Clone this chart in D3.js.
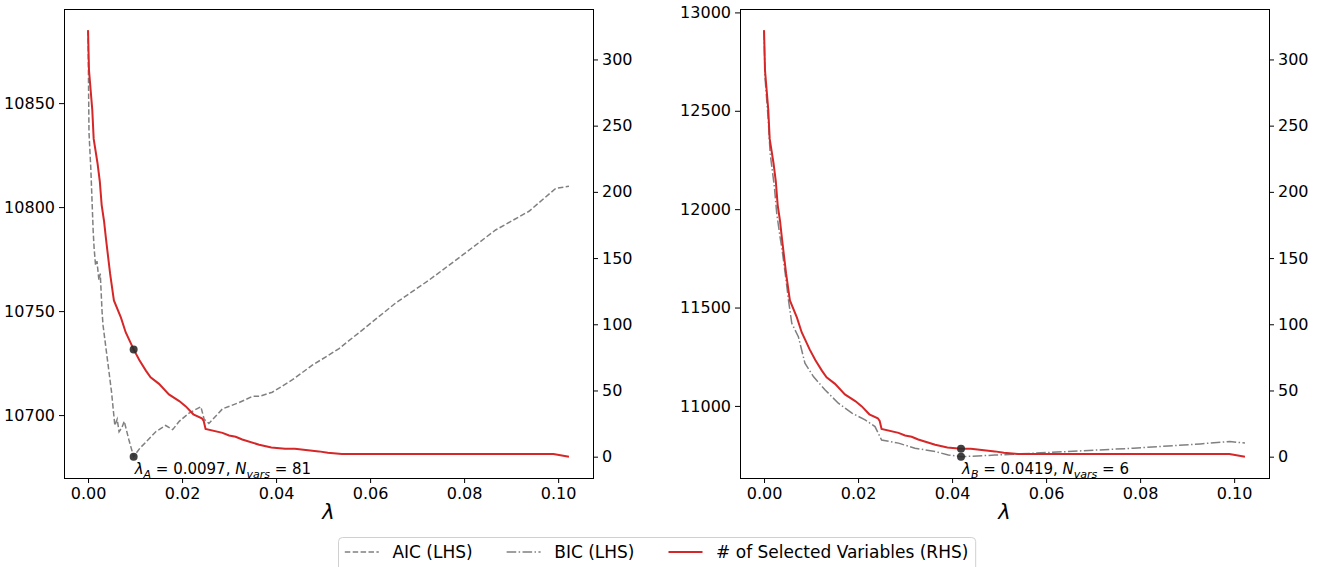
<!DOCTYPE html>
<meta charset="utf-8">
<html>
<head>
  <script src="https://d3js.org/d3.v7.min.js"></script>
</head>
<style>
body { margin: 0; background: white; }
text { font-family: "DejaVu Sans", sans-serif; fill: black; }
.domain { display: none; }
</style>
<body>
<div id="container"></div>
<script>

// number of selected variables along the lambda path (same path in both panels)
var nLambda = [0, 0.0002, 0.0009, 0.0012, 0.0020, 0.0025, 0.0029, 0.0034, 0.0038, 0.0041,
               0.0047, 0.0055, 0.0070, 0.0080, 0.0097, 0.0109, 0.0123, 0.0133, 0.0151, 0.0172,
               0.0194, 0.0208, 0.0224, 0.0242, 0.0246, 0.0250, 0.0286, 0.0300, 0.0314, 0.0328,
               0.0364, 0.0390, 0.0419, 0.0440, 0.0491, 0.0510, 0.0540, 0.0990, 0.1023]
var nVars = [322, 292, 262, 240, 222, 208, 190, 178, 165, 156,
             138, 118, 105, 94, 81, 73, 65, 60, 55, 47,
             42, 38, 32, 29, 27, 21, 18, 16, 15, 13,
             9, 7, 6, 6, 4, 3, 2, 2, 0]

// AIC (left panel)
var aicLambda = [0, 0.0001, 0.0002, 0.0006, 0.0011, 0.0013, 0.0016, 0.0019, 0.0023, 0.0026,
                 0.0030, 0.0032, 0.0045, 0.0050, 0.0057, 0.0062, 0.0066, 0.0072, 0.0077, 0.0087,
                 0.0097, 0.0110, 0.0123, 0.0144, 0.0165, 0.0180, 0.0194, 0.0215, 0.0240, 0.0247,
                 0.0257, 0.0286, 0.0321, 0.0350, 0.0364, 0.0392, 0.0435, 0.0477, 0.0506, 0.0534,
                 0.0584, 0.0655, 0.0726, 0.0797, 0.0867, 0.0938, 0.0995, 0.1023]
var aicValues = [10885, 10860, 10836, 10818, 10788, 10780, 10772, 10774, 10765, 10768,
                 10749, 10743, 10720, 10711, 10695, 10698, 10692, 10694, 10697, 10688,
                 10680, 10684, 10687, 10692, 10695, 10693, 10697, 10701, 10704, 10698,
                 10696, 10703, 10706, 10709, 10709, 10711, 10717, 10724, 10728, 10732,
                 10741, 10754, 10765, 10777, 10789, 10798, 10809, 10810]

// BIC (right panel)
var bicLambda = [0, 0.0002, 0.0009, 0.0013, 0.0022, 0.0027, 0.0034, 0.0038, 0.0045, 0.0052,
                 0.0059, 0.0073, 0.0087, 0.0105, 0.0130, 0.0158, 0.0187, 0.0215, 0.0236, 0.0250,
                 0.0286, 0.0321, 0.0364, 0.0392, 0.0419, 0.0491, 0.0644, 0.0786, 0.0928, 0.0991,
                 0.1023]
var bicValues = [12909, 12672, 12452, 12283, 12113, 11978, 11859, 11800, 11674, 11538,
                 11420, 11352, 11217, 11149, 11081, 11014, 10963, 10929, 10895, 10827,
                 10811, 10785, 10768, 10751, 10742, 10750, 10768, 10785, 10807, 10819,
                 10811]

// selected points
var pickA = {lambda: 0.0097, n: 81, ic: 10680, label: "A", text: "0.0097", nText: "81"}
var pickB = {lambda: 0.0419, n: 6, ic: 10742, label: "B", text: "0.0419", nText: "6"}

var xTicks = [0, 0.02, 0.04, 0.06, 0.08, 0.10]
var nTicks = [0, 50, 100, 150, 200, 250, 300]
var aicTicks = [10700, 10750, 10800, 10850]
var bicTicks = [11000, 11500, 12000, 12500, 13000]

var legendNames = ["AIC (LHS)", "BIC (LHS)", "# of Selected Variables (RHS)"]

var width = 1320
var height = 567
var top_ = 9, bottom = 478
var tickFont = 16
var legendFont = 17

var svg = d3.select("#container")
            .append("svg")
            .attr("width", width)
            .attr("height", height)

function pad(ext) {
  var p = (ext[1] - ext[0]) * 0.05
  return [ext[0] - p, ext[1] + p]
}

function drawPanel(left, right, icLambda, icValues, icTicks, dash, pick) {
  var g = svg.append("g")

  var x = d3.scaleLinear().domain(pad(d3.extent(nLambda))).range([left, right])
  var yIc = d3.scaleLinear().domain(pad(d3.extent(icValues))).range([bottom, top_])
  var yN = d3.scaleLinear().domain(pad(d3.extent(nVars))).range([bottom, top_])

  var icLine = d3.line().x((d, i) => x(icLambda[i])).y((d) => yIc(d))
  var nLine = d3.line().x((d, i) => x(nLambda[i])).y((d) => yN(d))

  g.append("path")
   .attr("d", icLine(icValues))
   .attr("fill", "none")
   .attr("stroke", "#808080")
   .attr("stroke-width", 1.5)
   .attr("stroke-dasharray", dash)

  g.append("path")
   .attr("d", nLine(nVars))
   .attr("fill", "none")
   .attr("stroke", "#d62728")
   .attr("stroke-width", 2)

  // markers at the chosen lambda
  g.selectAll(".pick")
   .data([yIc(pick.ic), yN(pick.n)])
   .enter()
   .append("circle")
   .attr("cx", x(pick.lambda))
   .attr("cy", (d) => d)
   .attr("r", 4)
   .attr("fill", "#2b2b2b")
   .attr("fill-opacity", 0.9)

  var ann = g.append("text")
             .attr("x", x(pick.lambda) + 1)
             .attr("y", yIc(pick.ic) + 17)
             .style("font-size", "15px")
  ann.append("tspan").style("font-style", "italic").text("λ")
  ann.append("tspan").attr("dy", 4).style("font-size", "11px").style("font-style", "italic").text(pick.label)
  ann.append("tspan").attr("dy", -4).text(" = " + pick.text + ", ")
  ann.append("tspan").style("font-style", "italic").text("N")
  ann.append("tspan").attr("dy", 4).style("font-size", "11px").style("font-style", "italic").text("vars")
  ann.append("tspan").attr("dy", -4).text(" = " + pick.nText)

  // axes
  var ax = g.append("g")
            .attr("transform", "translate(0," + bottom + ")")
            .call(d3.axisBottom(x).tickValues(xTicks).tickSize(5).tickPadding(5).tickFormat(d3.format(".2f")))
  var ayl = g.append("g")
             .attr("transform", "translate(" + left + ",0)")
             .call(d3.axisLeft(yIc).tickValues(icTicks).tickSize(5).tickPadding(4).tickFormat((d) => d))
  var ayr = g.append("g")
             .attr("transform", "translate(" + right + ",0)")
             .call(d3.axisRight(yN).tickValues(nTicks).tickSize(5).tickPadding(4))
  ;[ax, ayl, ayr].forEach(function(a) {
    a.selectAll("text").style("font-size", tickFont + "px").style("font-family", "DejaVu Sans")
    a.selectAll("line").attr("stroke", "#000").attr("stroke-width", 1)
  })

  g.append("rect")
   .attr("x", left + 0.5)
   .attr("y", top_ + 0.5)
   .attr("width", right - left)
   .attr("height", bottom - top_)
   .attr("fill", "none")
   .attr("stroke", "#000")
   .attr("stroke-width", 1)

  g.append("text")
   .attr("x", (left + right) / 2)
   .attr("y", 519)
   .attr("text-anchor", "middle")
   .style("font-size", "21px")
   .style("font-style", "italic")
   .text("λ")
}

drawPanel(64, 593, aicLambda, aicValues, aicTicks, "5.5,2.4", pickA)
drawPanel(740, 1269, bicLambda, bicValues, bicTicks, "9.6,2.4,1.5,2.4", pickB)

// legend, laid out like matplotlib (handle 2em, text pad 0.8em, column gap 2em)
var legendStyles = [
  {color: "#808080", w: 1.5, dash: "5.5,2.4"},
  {color: "#808080", w: 1.5, dash: "9.6,2.4,1.5,2.4"},
  {color: "#d62728", w: 2, dash: null}
]

var legend = svg.append("g")
var box = legend.append("rect")
      .attr("y", 537.5)
      .attr("height", 36)
      .attr("rx", 4)
      .attr("fill", "white")
      .attr("stroke", "#d0d0d0")

var cursor = 0
var items = []
legendNames.forEach(function(name, i) {
  var s = legendStyles[i]
  var it = legend.append("g")
  it.append("line")
    .attr("x1", cursor).attr("x2", cursor + 2 * legendFont)
    .attr("y1", 552).attr("y2", 552)
    .attr("stroke", s.color)
    .attr("stroke-width", s.w)
    .attr("stroke-dasharray", s.dash)
  var t = it.append("text")
    .attr("x", cursor + 2.8 * legendFont)
    .attr("y", 558)
    .style("font-size", legendFont + "px")
    .text(name)
  cursor += 2.8 * legendFont + t.node().getComputedTextLength() + 2 * legendFont
})
var inner = cursor - 2 * legendFont
var boxW = inner + 0.8 * legendFont
var boxX = Math.round(657 - boxW / 2)
box.attr("x", boxX + 0.5).attr("width", boxW)
legend.selectAll("g").attr("transform", "translate(" + (boxX + 0.4 * legendFont) + ",0)")

</script>
</body>
</html>
